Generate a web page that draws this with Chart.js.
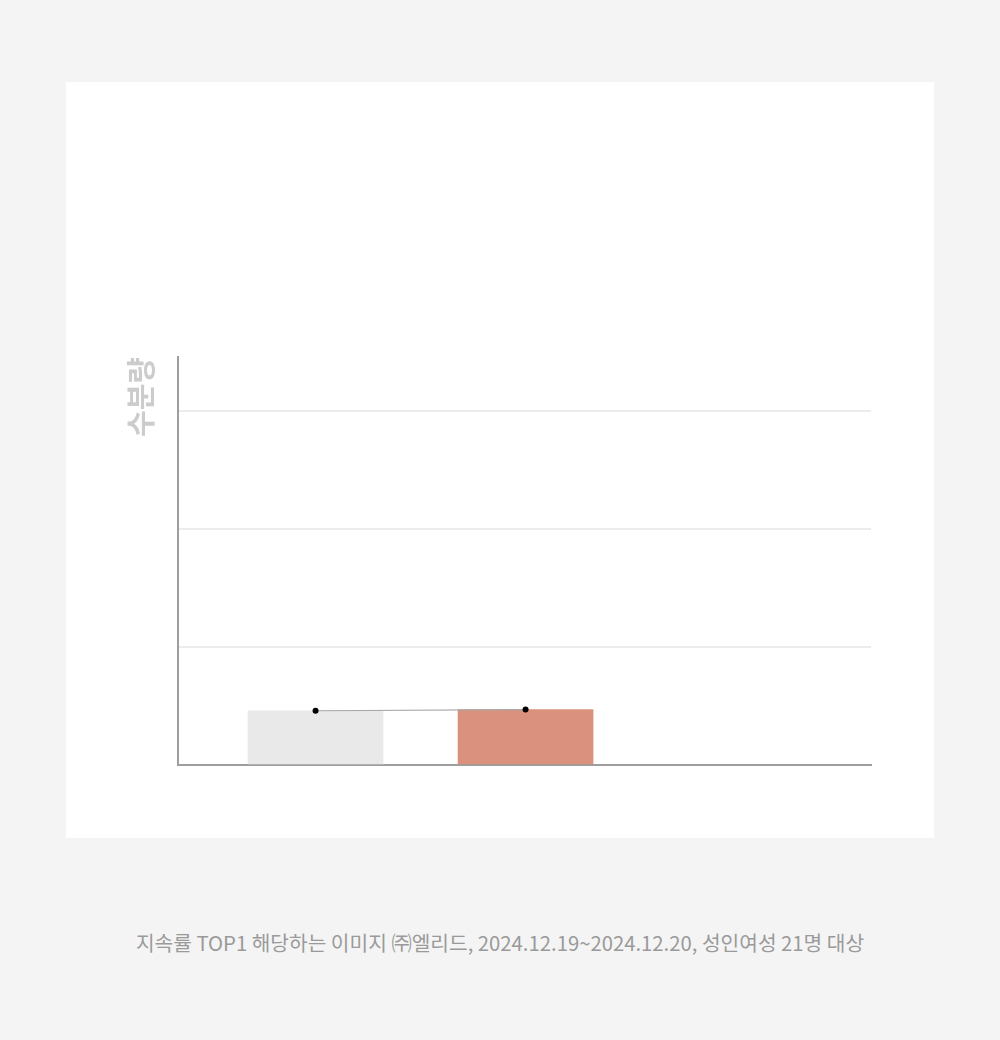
<!DOCTYPE html>
<html>
<head>
<meta charset="utf-8">
<script src="https://cdn.jsdelivr.net/npm/chart.js@4.4.1/dist/chart.umd.min.js"></script>
<style>
  html, body { margin: 0; padding: 0; background: #f4f4f4; width: 1000px; height: 1040px; overflow: hidden; }
  #card { position: absolute; left: 66px; top: 82px; width: 868px; height: 756px; background: #ffffff; }
  #wrap { position: absolute; left: 0; top: 0; width: 868px; height: 756px; }
  #caption { position: absolute; left: 0; top: 927px; width: 1000px; text-align: center;
    font-family: "Noto Sans CJK KR", "Noto Sans", sans-serif; font-size: 20.3px; color: #9a9a9a; letter-spacing: 0; }
</style>
</head>
<body>
<div id="card"><div id="wrap"><canvas id="c"></canvas></div></div>
<div id="caption">지속률 TOP1 해당하는 이미지 ㈜엘리드, 2024.12.19~2024.12.20, 성인여성 21명 대상</div>
<script>
// Data
const categories = ['비교 제품', '엘리드'];
const barValues = [4.6, 4.7];
const lineValues = [4.6, 4.7];
const barColors = ['#e9e9e9', '#da917d'];
const yTitle = '수분량';
const yMax = 34.6;
const yStep = 10;

const barData = categories.map((c, i) => ({ x: i, y: barValues[i] }));
const lineData = categories.map((c, i) => ({ x: i, y: lineValues[i] }));

new Chart(document.getElementById('c'), {
  type: 'bar',
  data: {
    datasets: [
      {
        type: 'line',
        label: 'line',
        data: lineData,
        borderColor: '#a8a8a8',
        borderWidth: 1.2,
        pointRadius: 3,
        pointBackgroundColor: '#000000',
        pointBorderColor: '#000000',
        pointBorderWidth: 0,
        fill: false,
        order: 0
      },
      {
        type: 'bar',
        label: 'bar',
        data: barData,
        backgroundColor: barColors,
        borderWidth: 0,
        barThickness: 135,
        order: 1
      }
    ]
  },
  options: {
    responsive: true,
    maintainAspectRatio: false,
    animation: false,
    layout: { padding: { left: 57.2, top: 275, right: 63, bottom: 65 } },
    plugins: { legend: { display: false }, tooltip: { enabled: false } },
    scales: {
      x: {
        type: 'linear',
        min: -0.655,
        max: 2.645,
        offset: false,
        grid: { display: false, offset: false },
        ticks: { display: false },
        border: { display: true, color: '#9e9e9e', width: 2 }
      },
      y: {
        min: 0,
        max: yMax,
        ticks: { display: false, stepSize: yStep },
        grid: {
          drawTicks: false,
          lineWidth: 2,
          color: (ctx) => (ctx.tick && ctx.tick.value > 0 && ctx.tick.value % yStep === 0) ? '#ececec' : 'rgba(0,0,0,0)'
        },
        border: { display: true, color: '#9e9e9e', width: 2 },
        title: {
          display: true,
          text: yTitle,
          align: 'end',
          color: '#cccccc',
          font: { family: '"Noto Sans CJK KR", sans-serif', size: 29, weight: 'bold', lineHeight: 1.2 },
          padding: { top: 0, bottom: 20 }
        }
      }
    }
  }
});
</script>
</body>
</html>
